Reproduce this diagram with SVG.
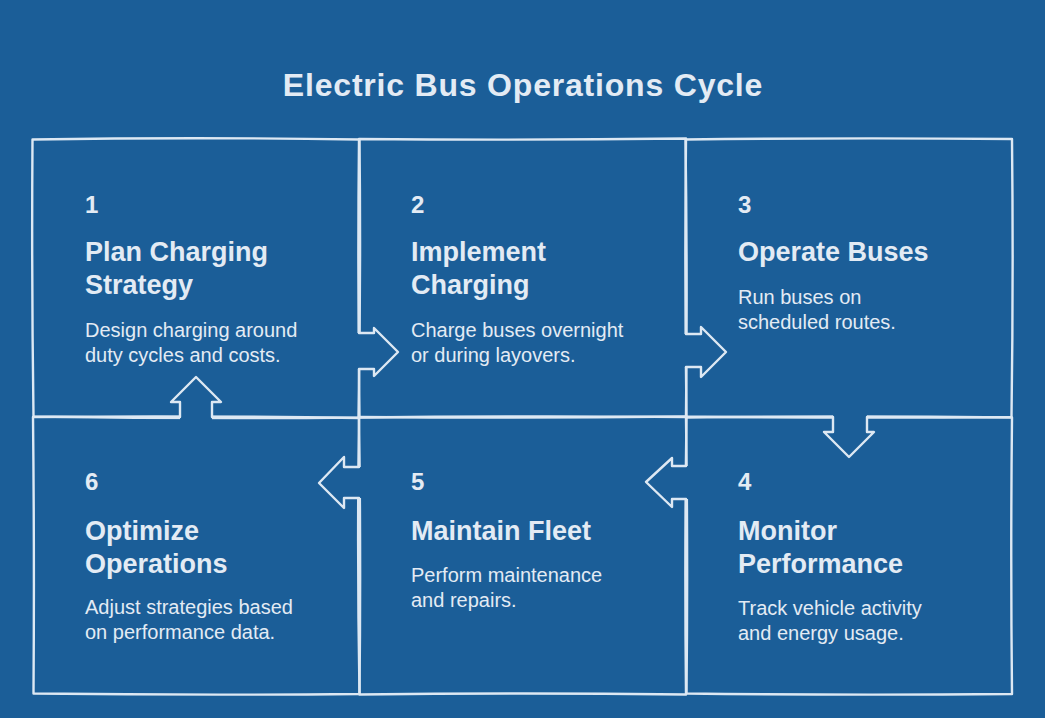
<svg xmlns="http://www.w3.org/2000/svg" width="1045" height="718" viewBox="0 0 1045 718">
<defs>
<style>
.bg{fill:#1b5e98}
.edge{fill:none;stroke:#dde8f3;stroke-width:2.4;stroke-linejoin:round;stroke-linecap:round}
.mask{fill:#1b5e98;stroke:none}
.title{font-family:"Liberation Sans",Arial,sans-serif;font-weight:bold;font-size:32px;letter-spacing:0.8px;fill:#e3ebf4}
.num{font-family:"Liberation Sans",Arial,sans-serif;font-weight:bold;font-size:24px;fill:#e3ebf4}
.head{font-family:"Liberation Sans",Arial,sans-serif;font-weight:bold;font-size:27px;fill:#e3ebf4}
.desc{font-family:"Liberation Sans",Arial,sans-serif;font-size:20px;fill:#e3ebf4}
</style>
</defs>
<rect class="bg" x="0" y="0" width="1045" height="718"/>
<text class="title" x="523" y="96" text-anchor="middle">Electric Bus Operations Cycle</text>

<g id="node1">
<path class="edge" d="M32.5,139.5 Q196,137 359.5,139.5 Q361,278 358.5,417.5 Q196,419 33.5,416.5 Q31.5,278 32.5,139.5 Z"/>
<text class="num" x="85" y="213">1</text>
<text class="head" x="85" y="261">Plan Charging</text>
<text class="head" x="85" y="294">Strategy</text>
<text class="desc" x="85" y="337">Design charging around</text>
<text class="desc" x="85" y="362">duty cycles and costs.</text>
</g>
<g id="node2">
<path class="edge" d="M359,139 Q523,140.5 686,138.5 Q684.5,278 686.5,417 Q523,415.5 359.5,417.5 Q357.5,278 359,139 Z"/>
<text class="num" x="411" y="213">2</text>
<text class="head" x="411" y="261">Implement</text>
<text class="head" x="411" y="294">Charging</text>
<text class="desc" x="411" y="337">Charge buses overnight</text>
<text class="desc" x="411" y="362">or during layovers.</text>
</g>
<g id="node3">
<path class="edge" d="M685.5,139.5 Q849,137.5 1012,139 Q1013.5,278 1011.5,417 Q849,418.5 686,416.5 Q687.5,278 685.5,139.5 Z"/>
<text class="num" x="738" y="213">3</text>
<text class="head" x="738" y="261">Operate Buses</text>
<text class="desc" x="738" y="304">Run buses on</text>
<text class="desc" x="738" y="329">scheduled routes.</text>
</g>
<g id="node4">
<path class="edge" d="M686,417.5 Q849,415.5 1012,417.5 Q1010.5,556 1012,694 Q849,695.5 686.5,693.5 Q688,556 686,417.5 Z"/>
<text class="num" x="738" y="490">4</text>
<text class="head" x="738" y="540">Monitor</text>
<text class="head" x="738" y="573">Performance</text>
<text class="desc" x="738" y="615">Track vehicle activity</text>
<text class="desc" x="738" y="640">and energy usage.</text>
</g>
<g id="node5">
<path class="edge" d="M359,417 Q523,418.5 686.5,416.5 Q684.5,556 686,694.5 Q523,692.5 359.5,694.5 Q361,556 359,417 Z"/>
<text class="num" x="411" y="490">5</text>
<text class="head" x="411" y="540">Maintain Fleet</text>
<text class="desc" x="411" y="582">Perform maintenance</text>
<text class="desc" x="411" y="607">and repairs.</text>
</g>
<g id="node6">
<path class="edge" d="M33,417 Q196,415.5 359,418 Q357,556 359.5,694 Q196,695.5 33.5,693.5 Q34.5,556 33,417 Z"/>
<text class="num" x="85" y="490">6</text>
<text class="head" x="85" y="540">Optimize</text>
<text class="head" x="85" y="573">Operations</text>
<text class="desc" x="85" y="614">Adjust strategies based</text>
<text class="desc" x="85" y="639">on performance data.</text>
</g>

<g id="connectors">
<g id="c1-2">
<polygon class="mask" points="355,333 374,333 374,328 398,352 374,376 374,369 355,369"/>
<polyline class="edge" points="359,333 374,333 374,328 398,352 374,376 374,369 359,369"/>
</g>
<g id="c2-3">
<polygon class="mask" points="682,334 701,334 701,327 726,352 701,377 701,367 682,367"/>
<polyline class="edge" points="686,334 701,334 701,327 726,352 701,377 701,367 686,367"/>
</g>
<g id="c3-4">
<polygon class="mask" points="833,413 833,432 824,432 849,457 874,432 867,432 867,413"/>
<polyline class="edge" points="833,417 833,432 824,432 849,457 874,432 867,432 867,417"/>
</g>
<g id="c4-5">
<polygon class="mask" points="690,466 672,466 672,458 646,482 672,507 672,499 690,499"/>
<polyline class="edge" points="686,466 672,466 672,458 646,482 672,507 672,499 686,499"/>
</g>
<g id="c5-6">
<polygon class="mask" points="363,467 344,467 344,457 319,483 344,508 344,498 363,498"/>
<polyline class="edge" points="359,467 344,467 344,457 319,483 344,508 344,498 359,498"/>
</g>
<g id="c6-1">
<polygon class="mask" points="180,421 180,402 171,402 196,377 221,402 212,402 212,421"/>
<polyline class="edge" points="180,417 180,402 171,402 196,377 221,402 212,402 212,417"/>
</g>
</g>
</svg>
